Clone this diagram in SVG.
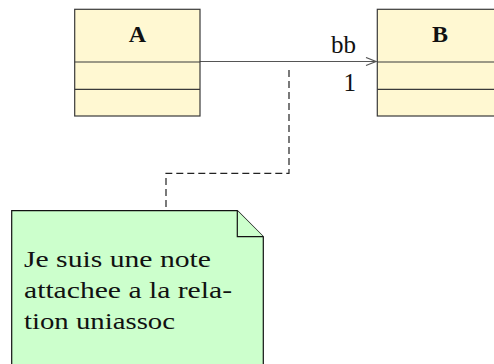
<svg xmlns="http://www.w3.org/2000/svg" width="494" height="364" viewBox="0 0 494 364">
  <style>
    .cls { fill: #fff8d2; stroke: #3a3a3a; stroke-width: 1.2; }
    .sep { stroke: #3a3a3a; stroke-width: 1.2; fill: none; }
    .title { font-family: "Liberation Serif", "DejaVu Serif", serif; font-weight: bold; font-size: 24px; text-anchor: middle; fill: #111; }
    .lbl { font-family: "Liberation Serif", "DejaVu Serif", serif; font-weight: normal; font-size: 25px; fill: #111; }
    .note { fill: #ccffcc; stroke: #111; stroke-width: 1.2; }
    .ntext { font-family: "Liberation Serif", "DejaVu Serif", serif; font-weight: normal; font-size: 24px; fill: #111; }
    .assoc { stroke: #555; stroke-width: 1.2; fill: none; }
    .dash { stroke: #222; stroke-width: 1.2; fill: none; stroke-dasharray: 7 4; }
  </style>
  <defs>
    <marker id="open" viewBox="0 0 12 10" refX="11" refY="5" markerWidth="12" markerHeight="10" markerUnits="userSpaceOnUse" orient="auto">
      <path d="M1,1 L11,5 L1,9" fill="none" stroke="#555" stroke-width="1.2"/>
    </marker>
  </defs>

  <g id="connectors">
    <path class="assoc" d="M200,61.5 L376,61.5" marker-end="url(#open)"/>
    <path class="dash" d="M289,70 L289,173.3 L166,173.3 L166,211"/>
    <text class="lbl" x="356" y="53" text-anchor="end">bb</text>
    <text class="lbl" x="356" y="90.5" text-anchor="end">1</text>
  </g>

  <g id="A">
    <rect class="cls" x="74.7" y="9.3" width="125.3" height="106.7"/>
    <line class="sep" x1="74.7" y1="62" x2="200" y2="62"/>
    <line class="sep" x1="74.7" y1="89.3" x2="200" y2="89.3"/>
    <text class="title" x="137.5" y="41.7">A</text>
  </g>

  <g id="B">
    <rect class="cls" x="377.3" y="9.3" width="125.3" height="106.7"/>
    <line class="sep" x1="377.3" y1="62" x2="502.6" y2="62"/>
    <line class="sep" x1="377.3" y1="89.3" x2="502.6" y2="89.3"/>
    <text class="title" x="440" y="41.7">B</text>
  </g>

  <g id="note">
    <path class="note" d="M11.7,210.7 L237.3,210.7 L263.3,236.7 L263.3,370 L11.7,370 Z"/>
    <path class="note" d="M237.3,210.7 L237.3,236.7 L263.3,236.7"/>
    <text class="ntext" x="24" y="266.5" textLength="187" lengthAdjust="spacingAndGlyphs">Je suis une note</text>
    <text class="ntext" x="24" y="298" textLength="208" lengthAdjust="spacingAndGlyphs">attachee a la rela-</text>
    <text class="ntext" x="24" y="329" textLength="151" lengthAdjust="spacingAndGlyphs">tion uniassoc</text>
  </g>
</svg>
